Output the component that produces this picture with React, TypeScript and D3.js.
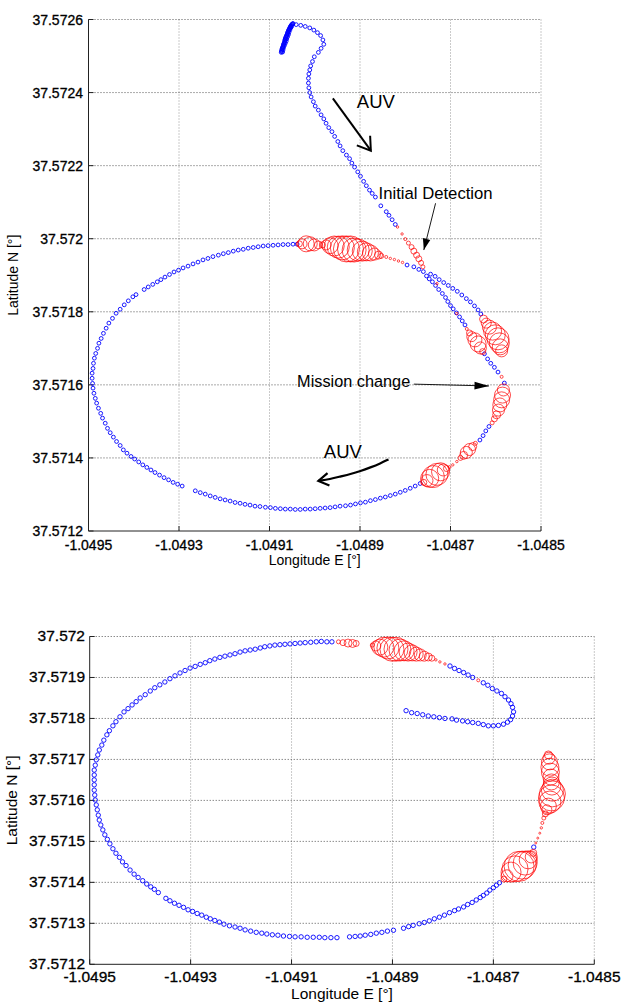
import * as d3 from "d3";

// positions are micro-degrees east / north of (-1.0495, 37.5712)
const LON0 = -1.0495;
const LAT0 = 37.5712;

const lonTicks = [-1.0495, -1.0493, -1.0491, -1.0489, -1.0487, -1.0485];
const topLatTicks = [37.5712, 37.5714, 37.5716, 37.5718, 37.572, 37.5722, 37.5724, 37.5726];
const bottomLatTicks = [37.5712, 37.5713, 37.5714, 37.5715, 37.5716, 37.5717, 37.5718, 37.5719, 37.572];

// top run: AUV track, no detection
const topBlue = [
  // surface tail (dense)
  [426, 1310], [426.5, 1312.5], [427, 1315], [427.5, 1318], [428, 1321], [429, 1323.5], [430, 1326], [430.5, 1329],
  [431, 1332], [432, 1334.5], [433, 1337], [433.5, 1340], [434, 1343], [434.5, 1345.5], [435, 1348], [436, 1351],
  [437, 1354], [438, 1356.5], [439, 1359], [439.5, 1361.5], [440, 1364], [441, 1367], [442, 1370], [443, 1372.5],
  [444, 1375], [445, 1377.5], [446, 1380], [447, 1382], [448, 1384], [449, 1385.5], [450, 1387], [451, 1388], [452, 1389],
  [429, 1311], [430, 1317], [431, 1323], [433, 1329], [435, 1335], [437, 1341], [438, 1347], [440, 1353], [442, 1359],
  [443, 1365], [445, 1371], [447, 1377], [449, 1381],
  [459, 1386], [469, 1384], [479, 1381], [489, 1377], [498, 1371], [506, 1364], [513, 1356], [518, 1344], [520, 1332],
  [514, 1321], [508, 1310], [499, 1298], [495, 1285], [491, 1273], [489, 1262], [487, 1251], [486, 1239], [486, 1226],
  [487, 1213], [489, 1200], [492, 1188], [497, 1175], [501, 1163], [508, 1152], [514, 1139], [520, 1128], [525, 1116],
  [531, 1104], [538, 1093], [544, 1080], [551, 1066], [556, 1054], [562, 1041], [570, 1029], [577, 1019], [582, 1007],
  [588, 996], [595, 983], [601, 971], [608, 957], [614, 945], [621, 933], [627, 924], [634, 914], [646, 890], [658, 874],
  [664, 864], [671, 852], [678, 839],
  [704, 728], [719, 723], [730, 716], [740, 710],
  [756, 703], [766, 697], [775, 688], [785, 680], [795, 672], [805, 664], [815, 656], [825, 646], [835, 636], [844, 627],
  [853, 616], [861, 605], [867, 594],
  [747, 698], [753, 690], [760, 682], [767, 672], [774, 661], [782, 650], [789, 639], [794, 628], [800, 617], [806, 608],
  [813, 597], [820, 586], [826, 575], [832, 564],
  [875, 485], [882, 471], [889, 459], [897, 448], [905, 435], [919, 405],
  [885, 286], [878, 274], [872, 261], [865, 249],
  [733, 130], [722, 123], [711, 117], [700, 111], [689, 106], [678, 101], [667, 97], [656, 93], [645, 90], [634, 86],
  [623, 83], [612, 79], [601, 77], [590, 74], [579, 71], [568, 69], [556, 68], [545, 66], [534, 64], [523, 63], [512, 62],
  [501, 61], [490, 60], [479, 60], [468, 59], [457, 59], [446, 60], [435, 60], [424, 61], [413, 62], [402, 64], [391, 65],
  [379, 67], [368, 68], [357, 71], [346, 73], [335, 76], [324, 78], [313, 82], [302, 85], [291, 88], [280, 92], [269, 96],
  [258, 101], [247, 105], [236, 110],
  [207, 123], [197, 128], [187, 133], [177, 140], [167, 146], [157, 153], [147, 160], [138, 167], [129, 174], [120, 181],
  [111, 189], [102, 197], [94, 204], [85, 213], [77, 222], [70, 234], [62, 245], [55, 257], [48, 269], [42, 281], [37, 295],
  [31, 309], [27, 322], [22, 336], [18, 350], [15, 363], [12, 377], [10, 391], [9, 404], [8, 418], [8, 432], [10, 445],
  [11, 459], [13, 473], [16, 486], [20, 500], [23, 514], [28, 527], [33, 541], [39, 555], [45, 569], [53, 582], [61, 596],
  [70, 607], [79, 619], [88, 630], [98, 641], [105, 647],
  [123, 661], [132, 668], [142, 675], [152, 682], [160, 688], [169, 695], [179, 702], [189, 709], [199, 714], [209, 720],
  [220, 725], [231, 731], [242, 736], [253, 742], [264, 746], [275, 751], [287, 755], [298, 759], [309, 762], [320, 766],
  [331, 769], [342, 771], [353, 774], [364, 776], [375, 778], [386, 780], [397, 781], [408, 782], [419, 783], [430, 784],
  [441, 784], [452, 785], [461, 785],
];

// top run: detections [east, north, level]
const topRed = [
  [466, 786, 3], [472, 786, 5], [481, 786, 8], [490, 786, 7], [499, 783, 6], [508, 783, 4], [517, 783, 3], [525, 783, 5],
  [534, 781, 8], [543, 780, 10], [552, 777, 11], [561, 775, 12], [570, 772, 13], [579, 772, 13], [587, 769, 12],
  [596, 769, 11], [605, 766, 10], [614, 764, 9], [623, 761, 8], [632, 758, 6], [641, 755, 4], [647, 753, 2.5],
  [658, 750, 1.5], [667, 746, 1.2], [676, 743, 1.2], [685, 739, 1.2], [694, 735, 1.2],
  [683, 832, 1.2], [693, 813, 1.2], [700, 799, 1.5], [707, 788, 2], [714, 777, 2.5], [719, 766, 3], [725, 755, 3],
  [730, 745, 3], [735, 734, 2.5], [739, 723, 2],
  [770, 677, 1.2], [814, 595, 1.2],
  [873, 580, 4], [879, 569, 5], [886, 558, 7], [893, 547, 9], [899, 537, 10], [905, 526, 11], [908, 515, 10],
  [910, 504, 8], [913, 493, 6],
  [836, 553, 1.5], [842, 542, 3], [847, 532, 5], [854, 523, 7], [861, 512, 8], [866, 501, 6], [871, 491, 3],
  [913, 422, 1.5],
  [917, 386, 6], [915, 372, 8], [913, 359, 8], [909, 345, 7], [906, 331, 6], [902, 318, 4], [897, 307, 3], [892, 296, 2],
  [855, 240, 2], [849, 231, 4], [842, 223, 6], [835, 215, 6], [829, 207, 4], [822, 200, 2.5],
  [814, 190, 1.2], [805, 181, 1.2], [798, 175, 1.5],
  [791, 171, 3], [784, 167, 6], [778, 162, 9], [770, 155, 11], [762, 149, 11], [754, 144, 9], [748, 138, 6], [741, 133, 3],
];

// bottom run
const bottomBlue = [
  [480, 787], [470, 787], [459, 788], [449, 787], [438, 786], [427, 785], [417, 784], [407, 783], [397, 782], [387, 781],
  [377, 780], [367, 779], [357, 777], [347, 775], [338, 772], [328, 769], [318, 767], [308, 765], [298, 762], [288, 758],
  [278, 755], [268, 752], [258, 749], [248, 745], [238, 741], [229, 736], [219, 732], [209, 727], [199, 723], [189, 717],
  [179, 711], [169, 704], [159, 697], [149, 689], [139, 682], [129, 675], [120, 667], [110, 658], [100, 650], [92, 641],
  [84, 633], [76, 624], [68, 616], [60, 604], [52, 592], [46, 582], [39, 570], [34, 560], [28, 547], [24, 535], [19, 523],
  [16, 511], [13, 499], [11, 486], [9, 474], [9, 462], [9, 450], [9, 438], [9, 425], [10, 413], [11, 401], [13, 389],
  [15, 377], [17, 364], [19, 352], [22, 340], [26, 328], [30, 316], [35, 305], [40, 294], [46, 282], [52, 271], [59, 261],
  [65, 250], [72, 241], [80, 230], [88, 220], [96, 212], [105, 204], [113, 196], [121, 189], [128, 183], [136, 175],
  [151, 161], [159, 155], [168, 149], [177, 144], [186, 139], [195, 133], [204, 129], [213, 124], [222, 120], [231, 115],
  [239, 111], [248, 107], [257, 103], [266, 98], [277, 94], [288, 91], [298, 88], [308, 84], [319, 81], [330, 78],
  [341, 76], [351, 74], [362, 72], [373, 71], [384, 69], [396, 68], [407, 67], [419, 67], [431, 66], [443, 66], [455, 66],
  [466, 65], [478, 65], [490, 65],
  [515, 67], [526, 68], [536, 69], [546, 71], [557, 73], [568, 76], [579, 78], [590, 81], [602, 83],
  [622, 88], [632, 92], [641, 95], [653, 99], [663, 102], [673, 106], [683, 111], [693, 115], [703, 120], [713, 126],
  [723, 131], [731, 135], [741, 140], [749, 146], [758, 151], [766, 157], [774, 163], [780, 168], [787, 174], [793, 181],
  [800, 187], [806, 193], [812, 199],
  [880, 286],
  [714, 728], [723, 722], [732, 717], [741, 712], [750, 706], [759, 700], [780, 687], [789, 681], [798, 673], [807, 667],
  [816, 661], [823, 653], [830, 645], [835, 636], [838, 627], [840, 616], [838, 606], [834, 597], [828, 591], [820, 586],
  [810, 583], [800, 582], [790, 582], [780, 585], [770, 588], [759, 590], [749, 592], [739, 594], [727, 596], [718, 599],
  [704, 600], [693, 602], [682, 604], [671, 606], [660, 609], [649, 612], [638, 614], [627, 619],
];

const bottomRed = [
  [493, 787, 2], [502, 785, 3], [512, 784, 4], [521, 783, 4], [528, 783, 3],
  [560, 779, 2], [567, 777, 5], [575, 774, 8], [583, 774, 10], [591, 772, 11], [599, 769, 12], [607, 769, 12],
  [615, 767, 11], [623, 765, 10], [631, 762, 9], [639, 760, 8], [647, 757, 7], [655, 755, 6], [663, 752, 5],
  [671, 750, 4], [678, 747, 3],
  [686, 743, 1.2], [694, 738, 1.2], [704, 733, 1.2],
  [770, 693, 1.5],
  [821, 208, 3], [827, 216, 6], [835, 225, 10], [843, 233, 13], [851, 239, 15], [857, 242, 14], [863, 247, 12],
  [869, 255, 9], [875, 262, 6], [879, 272, 3.5],
  [884, 296, 1], [888, 308, 1], [892, 320, 1], [895, 333, 1.2], [897, 345, 1.5],
  [900, 357, 2], [903, 367, 3], [906, 377, 5], [909, 386, 8], [912, 396, 11], [915, 406, 13], [917, 416, 13],
  [917, 425, 11], [916, 435, 9], [915, 445, 8], [914, 457, 8], [913, 469, 9], [912, 481, 9], [911, 494, 8],
  [910, 503, 6], [909, 511, 4],
];

// annotations on the top run
const topNotes = [
  { text: "AUV", at: [593, 1157], size: 18.5 },
  { text: "Initial Detection", at: [641, 908], size: 16.7 },
  { text: "Mission change", at: [461, 394], size: 16.3 },
  { text: "AUV", at: [520, 199], size: 18.5 },
];
const auvArrow1 = [[540, 1184], [624, 1041]];
const detectArrow = [[767, 897], [741, 769]];
const missionArrow = [[719, 402], [885, 397]];
const auvArrow2 = [[663, 196], [645, 185], [623, 174], [601, 164], [579, 156], [556, 149], [534, 142], [508, 137]];

const FONT = "'Liberation Sans', Arial, Helvetica, sans-serif";
const toLon = (d: number) => LON0 + d / 1e6;
const toLat = (d: number) => LAT0 + d / 1e6;
const fmt = (v: number) => String(+v.toFixed(4));

function head(p: number[], q: number[], len: number, ang: number) {
  const a = Math.atan2(q[1] - p[1], q[0] - p[0]) + Math.PI;
  return [a - ang, a + ang].map(t => [q[0] + len * Math.cos(t), q[1] + len * Math.sin(t)]);
}

function Panel({ box, latTicks, blue, red, blueR, tickSize, labelSize, xTickY, yTickDx, yTickDy, xLabelY, yLabelX, notes }: any) {
  const x = d3.scaleLinear().domain([lonTicks[0], lonTicks[lonTicks.length - 1]]).range([box.left, box.right]);
  const y = d3.scaleLinear().domain([latTicks[0], latTicks[latTicks.length - 1]]).range([box.bottom, box.top]);
  const r = d3.scaleLinear().domain([0, 15]).range([0, 15]);
  const px = (d: number[]) => [x(toLon(d[0])), y(toLat(d[1]))];

  return (
    <g fontFamily={FONT}>
      {lonTicks.slice(1).map(v => (
        <line key={"gx" + v} x1={x(v)} x2={x(v)} y1={box.top} y2={box.bottom}
          stroke="#8a8a8a" strokeWidth={0.9} strokeDasharray="1 2" />
      ))}
      {latTicks.slice(1).map(v => (
        <line key={"gy" + v} x1={box.left} x2={box.right} y1={y(v)} y2={y(v)}
          stroke="#444" strokeWidth={0.9} strokeDasharray="1 2" />
      ))}
      <line x1={box.left} x2={box.left} y1={box.top} y2={box.bottom} stroke="#222" />
      <line x1={box.left} x2={box.right} y1={box.bottom} y2={box.bottom} stroke="#222" />
      {latTicks.map(v => (
        <line key={"ty" + v} x1={box.left} x2={box.left + 5} y1={y(v)} y2={y(v)} stroke="#222" />
      ))}
      {lonTicks.map(v => (
        <line key={"tx" + v} x1={x(v)} x2={x(v)} y1={box.bottom} y2={box.bottom - 5} stroke="#222" />
      ))}
      <g stroke="#000" strokeWidth={0.3}>
        {latTicks.map(v => (
          <text key={"ly" + v} x={box.left - yTickDx} y={y(v) + yTickDy} textAnchor="end" fontSize={tickSize}>{fmt(v)}</text>
        ))}
        {lonTicks.map(v => (
          <text key={"lx" + v} x={x(v)} y={xTickY} textAnchor="middle" fontSize={tickSize}>{fmt(v)}</text>
        ))}
      </g>
      <text x={(box.left + box.right) / 2} y={xLabelY} textAnchor="middle" fontSize={labelSize}>Longitude E [°]</text>
      <text transform={`translate(${yLabelX},${(box.top + box.bottom) / 2}) rotate(-90)`} textAnchor="middle" fontSize={labelSize}>
        Latitude N [°]
      </text>

      {blue.map((d: number[], i: number) => {
        const [cx, cy] = px(d);
        return <circle key={"b" + i} cx={cx} cy={cy} r={blueR} fill="none" stroke="#0000ff" strokeWidth={0.9} />;
      })}
      {red.map((d: number[], i: number) => {
        const [cx, cy] = px(d);
        return <circle key={"r" + i} cx={cx} cy={cy} r={r(d[2])} fill="none" stroke="#ff0000" strokeWidth={0.7} />;
      })}
      {notes && notes(px)}
    </g>
  );
}

function topAnnotations(px: (d: number[]) => number[]) {
  const a1 = auvArrow1.map(px);
  const h1 = head(a1[0], a1[1], 15, 0.58);
  const a2 = detectArrow.map(px);
  const h2 = head(a2[0], a2[1], 12, 0.32);
  const a3 = missionArrow.map(px);
  const h3 = head(a3[0], a3[1], 15, 0.26);
  const a4 = auvArrow2.map(px);
  const h4 = head(a4[a4.length - 2], a4[a4.length - 1], 12, 0.55);
  const curve = d3.line().curve(d3.curveBasis)(a4 as [number, number][]) || "";
  return (
    <g>
      {topNotes.map((n, i) => {
        const [tx, ty] = px(n.at);
        return <text key={"n" + i} x={tx} y={ty} fontSize={n.size} fill="#000">{n.text}</text>;
      })}
      <line x1={a1[0][0]} y1={a1[0][1]} x2={a1[1][0]} y2={a1[1][1]} stroke="#000" strokeWidth={2} />
      <path d={`M${h1[0]}L${a1[1]}L${h1[1]}`} fill="none" stroke="#000" strokeWidth={2} />
      <line x1={a2[0][0]} y1={a2[0][1]} x2={a2[1][0]} y2={a2[1][1]} stroke="#000" strokeWidth={0.9} />
      <path d={`M${a2[1]}L${h2[0]}L${h2[1]}Z`} fill="#000" />
      <line x1={a3[0][0]} y1={a3[0][1]} x2={a3[1][0]} y2={a3[1][1]} stroke="#000" strokeWidth={0.9} />
      <path d={`M${a3[1]}L${h3[0]}L${h3[1]}Z`} fill="#000" />
      <path d={curve} fill="none" stroke="#000" strokeWidth={2.2} />
      <path d={`M${h4[0]}L${a4[a4.length - 1]}L${h4[1]}`} fill="none" stroke="#000" strokeWidth={2.2} />
    </g>
  );
}

export default function App() {
  return (
    <svg width={621} height={1004} style={{ position: "absolute", left: 0, top: 0, background: "#fff" }}>
      <rect width={621} height={1004} fill="#fff" />
      <Panel
        box={{ left: 88.5, right: 541, top: 19.5, bottom: 531 }}
        latTicks={topLatTicks} blue={topBlue} red={topRed} blueR={1.9}
        tickSize={14} labelSize={14} xTickY={550} yTickDx={5.5} yTickDy={5}
        xLabelY={565} yLabelX={17.5} notes={topAnnotations}
      />
      <Panel
        box={{ left: 89.7, right: 594.3, top: 636.5, bottom: 964.3 }}
        latTicks={bottomLatTicks} blue={bottomBlue} red={bottomRed} blueR={2.2}
        tickSize={15.5} labelSize={15.5} xTickY={982} yTickDx={4.7} yTickDy={4.8}
        xLabelY={998.5} yLabelX={17}
      />
    </svg>
  );
}
